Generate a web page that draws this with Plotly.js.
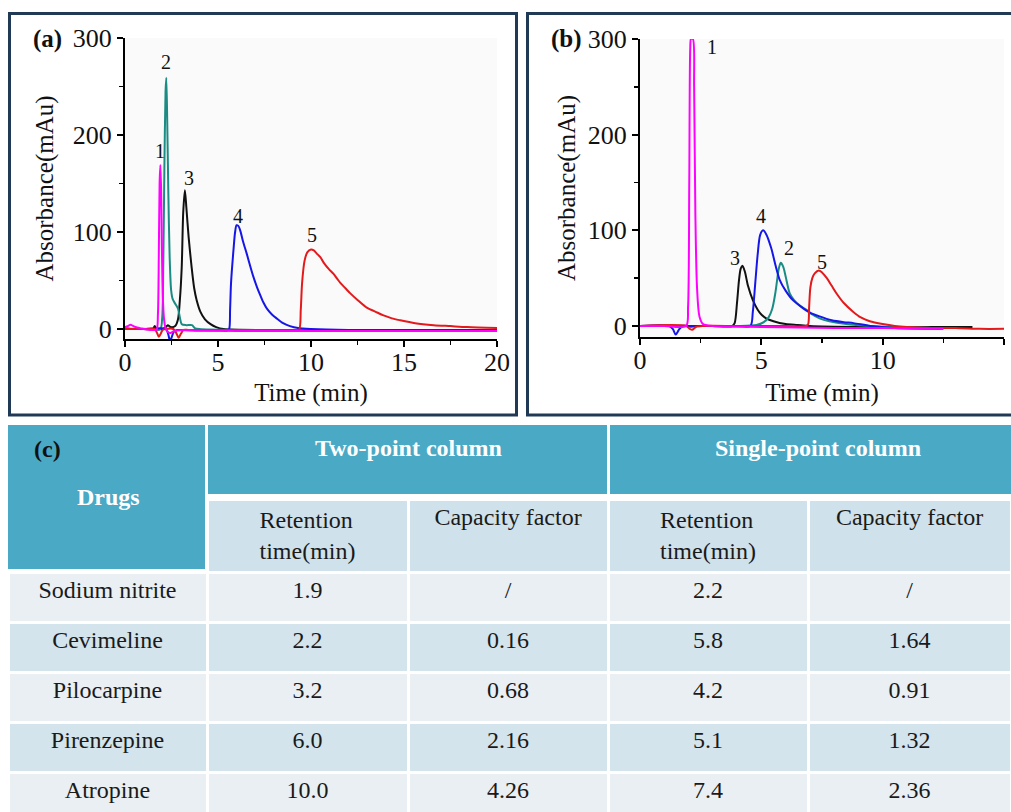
<!DOCTYPE html>
<html>
<head>
<meta charset="utf-8">
<script src="https://cdn.plot.ly/plotly-3.0.1.min.js"></script>
<style>
html,body{margin:0;padding:0;width:1011px;height:812px;overflow:hidden;background:#fff;}
#wrap{width:1011px;height:812px;overflow:hidden;position:relative;}
#chart{width:1011px;height:822px;}
#chart text, #chart tspan {font-family: "Liberation Serif", "Times New Roman", serif !important;}
</style>
</head>
<body>
<div id="wrap"><div id="chart"></div></div>
<script>
// ---------- Panel (a): two-point column chromatograms ----------
const aNitT = [0, 0.15, 0.3, 0.45, 0.65, 0.9, 1.2, 1.5, 1.7, 1.77, 1.82, 1.86, 1.9, 1.94, 1.98, 2.03, 2.1, 2.18, 2.3, 2.45, 2.6, 2.8, 3.2, 4, 6, 9, 12, 15, 18, 20];
const aNitA = [2, 3, 4.5, 3, 1.5, 0.5, -0.5, -1, -0.5, 15, 80, 150, 169, 145, 90, 35, 10, 1, -3, -4, -2.5, -1.5, -1, -1.5, -2, -2, -2, -2, -2, -2];
const aCevT = [0, 0.5, 1, 1.5, 1.9, 2.0, 2.06, 2.12, 2.18, 2.22, 2.27, 2.33, 2.4, 2.48, 2.56, 2.7, 2.85, 2.95, 3.05, 3.3, 3.6, 3.75, 4, 6, 10, 15, 20];
const aCevA = [1, 0, 0, 0, 0, 12, 70, 170, 245, 259, 215, 140, 75, 40, 31, 26, 21, 12, 5, 4, 4, 1, 0, -1, -1, -1, -1];
const aPiloT = [0, 1, 1.5, 1.6, 1.7, 2.0, 2.2, 2.3, 2.45, 2.7, 2.85, 2.95, 3.05, 3.13, 3.22, 3.3, 3.42, 3.58, 3.72, 3.85, 4.05, 4.3, 4.6, 4.9, 5.3, 8, 12, 20];
const aPiloA = [0, 0, 0, 3, 0, 0, 2, 4, 2, 3, 10, 30, 64, 120, 143, 125, 95, 64, 42, 30, 18, 10, 5, 2, 0, -1, -1, -1];
const aPirT = [0, 1, 2.2, 2.32, 2.42, 2.52, 2.62, 2.8, 3, 4, 5, 5.5, 5.6, 5.65, 5.7, 5.83, 5.92, 6.0, 6.1, 6.19, 6.35, 6.54, 6.7, 6.9, 7.1, 7.27, 7.45, 7.63, 7.9, 8.15, 8.5, 8.87, 9.3, 10, 12, 15, 20];
const aPirA = [0, 0, 0, -5, -12, -8, -3, -1, -1, -1.5, -1.5, -1.5, 0, 20, 47, 81, 100, 107, 106, 102, 90, 78, 67, 54, 43, 35, 27, 21, 15, 11, 6, 3, 1, 0, -1, -1, -1];
const aAtrT = [0, 1, 1.6, 1.72, 1.82, 1.92, 2.02, 2.2, 2.6, 2.75, 2.88, 3.0, 3.15, 3.4, 4, 6, 8, 9, 9.35, 9.45, 9.52, 9.65, 9.8, 10.0, 10.15, 10.3, 10.5, 10.7, 10.95, 11.2, 11.4, 11.6, 11.85, 12.1, 12.5, 13.0, 13.45, 13.9, 14.35, 14.8, 15.6, 16.6, 17.5, 18.4, 20];
const aAtrA = [0, 0, 0, -4, -8, -5, -1, 0, 0, -4, -9, -5, -1, -1, -1, -1, -1, -1, -1, 20, 47, 70, 79, 82, 81, 78, 74, 68, 62, 57, 52, 47, 42, 37, 30, 22, 18, 14, 11, 9, 6, 4, 3, 2, 1];
const aLabelText = ["1", "2", "3", "4", "5"];
const aLabelT = [1.88, 2.2, 3.44, 6.08, 10.05];
const aLabelA = [184, 275, 156, 117, 97];

// ---------- Panel (b): single-point column chromatograms ----------
const bNitT = [0, 1, 1.9, 1.98, 2.03, 2.07, 2.1, 2.18, 2.23, 2.28, 2.35, 2.45, 2.6, 3, 5, 8, 10, 12.5];
const bNitA = [0, 0, 0, 20, 150, 290, 300, 300, 250, 120, 40, 10, 2, 0, -1, -2, -2, -3];
const bCevT = [0, 1, 2, 2.1, 2.25, 2.5, 3, 4, 4.8, 5.1, 5.3, 5.45, 5.58, 5.65, 5.72, 5.8, 5.9, 6.0, 6.17, 6.35, 6.6, 6.86, 7.1, 7.4, 7.8, 8.5, 9.5, 10.5, 12, 12.4];
const bCevA = [0, 0, 0, -1, 0, 0, 0, 0, 1, 4, 9, 18, 35, 48, 60, 66, 62, 52, 34, 27, 21, 17, 12, 8, 5, 2, 0, -1, -2, -3];
const bPiloT = [0, 2, 3, 3.8, 3.9, 4.0, 4.08, 4.15, 4.22, 4.32, 4.45, 4.65, 4.85, 5.0, 5.2, 5.5, 6.0, 6.5, 7, 9, 11, 13.7];
const bPiloA = [0, 0, 0, 0, 3, 25, 48, 60, 63, 57, 42, 27, 17, 12, 8, 5, 2, 1, 0, -1, -1, -1];
const bPirT = [0, 1.2, 1.35, 1.47, 1.6, 1.75, 2, 3, 4, 4.55, 4.65, 4.75, 4.85, 4.95, 5.07, 5.2, 5.4, 5.6, 5.76, 6.0, 6.3, 6.7, 7.0, 7.4, 7.9, 8.4, 8.8, 9.5, 10.5, 12.5];
const bPirA = [0, 0, -3, -9, -4, 0, 0, 0, 0, 0, 15, 45, 75, 95, 100, 96, 82, 62, 48, 37, 27, 19, 14, 10, 6, 4, 3, 0, -2, -3];
const bAtrT = [0, 1.9, 2.05, 2.15, 2.3, 2.6, 4, 6, 6.85, 6.93, 6.97, 7.02, 7.1, 7.2, 7.37, 7.5, 7.7, 7.9, 8.1, 8.4, 8.78, 9.1, 9.47, 10, 10.5, 11, 12, 13, 14, 15];
const bAtrA = [0, 0, -3, -4, -1, 0, 0, 0, 0, 2, 20, 40, 50, 55, 58, 56, 50, 42, 34, 24, 15, 9, 5, 2, 0, -1, -2, -2, -3, -3];
const bLabelText = ["1", "4", "2", "3", "5"];
const bLabelT = [2.96, 4.98, 6.13, 3.9, 7.49];
const bLabelA = [292, 115, 82, 71, 67];

// ---------- Panel (c): table ----------
const drugs = ["Sodium nitrite", "Cevimeline", "Pilocarpine", "Pirenzepine", "Atropine"];
const twoRT = ["1.9", "2.2", "3.2", "6.0", "10.0"];
const twoCF = ["/", "0.16", "0.68", "2.16", "4.26"];
const singleRT = ["2.2", "5.8", "4.2", "5.1", "7.4"];
const singleCF = ["/", "1.64", "0.91", "1.32", "2.36"];
const groupHeaders = ["Two-point column", "Single-point column"];
const subHeaders = ["", "Retention<br>time(min)", "Capacity factor", "Retention<br>time(min)", "Capacity factor"];

// ---------- styling ----------
const W = 1011, H = 822;
const px = v => v / W;
const py = v => 1 - v / H;
const SERIF = "Liberation Serif, Times New Roman, serif";
const colors = {nit: "#ff00ff", cev: "#1b8c84", pilo: "#111111", pir: "#1616e8", atr: "#e3191c"};
const TEAL = "#4aa9c5", SUB = "#cfe1ea", ROW1 = "#e9eff3", ROW2 = "#d3e4ec", FRAME = "#203a55";
const CLEAR = "rgba(0,0,0,0)";

function line(x, y, c, xa, ya) {
  return {x: x, y: y, type: "scatter", mode: "lines", xaxis: xa, yaxis: ya,
    line: {color: c, width: 2, shape: "spline", smoothing: 0.8}, hoverinfo: "skip"};
}

const traces = [
  line(aPiloT, aPiloA, colors.pilo, "x", "y"),
  line(aCevT, aCevA, colors.cev, "x", "y"),
  line(aPirT, aPirA, colors.pir, "x", "y"),
  line(aAtrT, aAtrA, colors.atr, "x", "y"),
  line(aNitT, aNitA, colors.nit, "x", "y"),
  line(bPiloT, bPiloA, colors.pilo, "x2", "y2"),
  line(bCevT, bCevA, colors.cev, "x2", "y2"),
  line(bPirT, bPirA, colors.pir, "x2", "y2"),
  line(bAtrT, bAtrA, colors.atr, "x2", "y2"),
  line(bNitT, bNitA, colors.nit, "x2", "y2"),
  {
    type: "table",
    domain: {x: [px(8), 1], y: [0, py(499)]},
    columnwidth: [199, 201, 200, 200, 203],
    header: {
      values: subHeaders,
      align: "center",
      height: 72,
      fill: {color: [CLEAR, SUB, SUB, SUB, SUB]},
      line: {color: [CLEAR, "#ffffff", "#ffffff", "#ffffff", "#ffffff"], width: 3},
      font: {family: SERIF, size: 24, color: "#1a1a1a"}
    },
    cells: {
      values: [drugs, twoRT, twoCF, singleRT, singleCF],
      align: "center",
      height: 50,
      fill: {color: [[ROW1, ROW2, ROW1, ROW2, ROW1]]},
      line: {color: "#ffffff", width: 3},
      font: {family: SERIF, size: 24, color: "#1a1a1a"}
    }
  }
];

function axX(dom, rng, anchor, standoff) {
  return {domain: dom, range: rng, anchor: anchor, showline: true, linecolor: "#000", linewidth: 2,
    ticks: "outside", ticklen: 6, tickwidth: 2, tickcolor: "#000", dtick: 5, tick0: 0,
    minor: {ticks: "outside", ticklen: 4, tickwidth: 1.5, dtick: 2.5, tick0: 0, tickcolor: "#000"},
    showgrid: false, zeroline: false, fixedrange: true, ticklabelstandoff: -7,
    tickfont: {family: SERIF, size: 26, color: "#111"},
    title: {text: "Time (min)", font: {family: SERIF, size: 25, color: "#111"}, standoff: standoff}};
}
function axY(dom, rng, anchor, standoff) {
  return {domain: dom, range: rng, anchor: anchor, showline: true, linecolor: "#000", linewidth: 2,
    ticks: "outside", ticklen: 6, tickwidth: 2, tickcolor: "#000", dtick: 100, tick0: 0,
    minor: {ticks: "outside", ticklen: 4, tickwidth: 1.5, dtick: 50, tick0: 0, tickcolor: "#000"},
    showgrid: false, zeroline: false, fixedrange: true,
    tickfont: {family: SERIF, size: 26, color: "#111"},
    title: {text: "Absorbance(mAu)", font: {family: SERIF, size: 25, color: "#111"}, standoff: standoff}};
}

function note(x, y, text, size, color) {
  return {x: px(x), y: py(y), xref: "paper", yref: "paper", text: text, showarrow: false,
    xanchor: "center", yanchor: "middle", font: {family: SERIF, size: size, color: color}};
}

const annotations = [];
aLabelText.forEach((t, i) => annotations.push({x: aLabelT[i], y: aLabelA[i], xref: "x", yref: "y", text: t,
  showarrow: false, xanchor: "center", yanchor: "middle", font: {family: SERIF, size: 20, color: "#111"}}));
bLabelText.forEach((t, i) => annotations.push({x: bLabelT[i], y: bLabelA[i], xref: "x2", yref: "y2", text: t,
  showarrow: false, xanchor: "center", yanchor: "middle", font: {family: SERIF, size: 20, color: "#111"}}));
annotations.push(note(47, 39, "<b>(a)</b>", 25, "#111"));
annotations.push(note(566, 39, "<b>(b)</b>", 25, "#111"));
annotations.push(note(47, 449, "<b>(c)</b>", 24, "#111"));
annotations.push(note(108, 497, "<b>Drugs</b>", 24, "#ffffff"));
annotations.push(note(408, 448, "<b>" + groupHeaders[0] + "</b>", 24, "#ffffff"));
annotations.push(note(818, 448, "<b>" + groupHeaders[1] + "</b>", 24, "#ffffff"));

const shapes = [
  {type: "rect", xref: "paper", yref: "paper", x0: px(9.5), x1: px(516.5), y0: py(13.5), y1: py(415),
    line: {color: FRAME, width: 3}, fillcolor: CLEAR, layer: "below"},
  {type: "rect", xref: "paper", yref: "paper", x0: px(527.5), x1: px(1040), y0: py(13.5), y1: py(415),
    line: {color: FRAME, width: 3}, fillcolor: CLEAR, layer: "below"},
  {type: "rect", xref: "paper", yref: "paper", x0: px(8), x1: px(205), y0: py(425), y1: py(569),
    line: {width: 0}, fillcolor: TEAL, layer: "below"},
  {type: "rect", xref: "paper", yref: "paper", x0: px(208), x1: px(607), y0: py(425), y1: py(494),
    line: {width: 0}, fillcolor: TEAL, layer: "below"},
  {type: "rect", xref: "paper", yref: "paper", x0: px(610), x1: px(1011), y0: py(425), y1: py(494),
    line: {width: 0}, fillcolor: TEAL, layer: "below"}
];

const layout = {
  width: W, height: H,
  margin: {l: 0, r: 0, t: 0, b: 0},
  font: {family: SERIF, color: "#111"},
  paper_bgcolor: "#ffffff", plot_bgcolor: "#fafafa",
  showlegend: false,
  xaxis: axX([px(125), px(497)], [0, 20], "y", 7),
  yaxis: axY([py(339), py(38)], [-10.3, 300], "x", 12),
  xaxis2: axX([px(640), px(1004)], [0, 15], "y2", 9),
  yaxis2: axY([py(337), py(39)], [-11.5, 300], "x2", 5),
  annotations: annotations,
  shapes: shapes
};

Plotly.newPlot("chart", traces, layout, {displayModeBar: false, staticPlot: true});
</script>
</body>
</html>
